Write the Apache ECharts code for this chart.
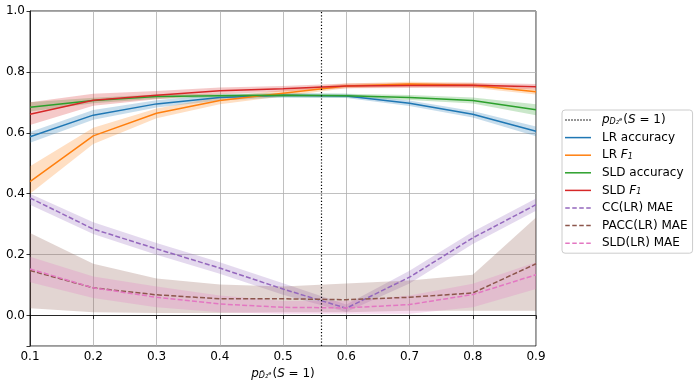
<!DOCTYPE html>
<html><head><meta charset="utf-8">
<script src="https://cdn.jsdelivr.net/npm/echarts@6/dist/echarts.min.js"></script>
<style>html,body{margin:0;padding:0;background:#fff}#c{width:697px;height:386px}</style>
</head><body><div id="c"></div>
<script>
const xs = [0.1, 0.2, 0.3, 0.4, 0.5, 0.6, 0.7, 0.8, 0.9];
const prior = 0.5635;
const yTicks = [0.0, 0.2, 0.4, 0.6, 0.8, 1.0];

const lrAccMean = [0.587, 0.658, 0.695, 0.716, 0.723, 0.721, 0.697, 0.661, 0.605];
const lrAccLo   = [0.567, 0.643, 0.683, 0.706, 0.716, 0.714, 0.688, 0.650, 0.589];
const lrAccHi   = [0.603, 0.675, 0.707, 0.726, 0.730, 0.728, 0.706, 0.672, 0.621];

const lrF1Mean = [0.440, 0.590, 0.664, 0.706, 0.730, 0.754, 0.760, 0.756, 0.735];
const lrF1Lo   = [0.400, 0.563, 0.648, 0.694, 0.720, 0.746, 0.752, 0.748, 0.726];
const lrF1Hi   = [0.490, 0.617, 0.680, 0.718, 0.740, 0.762, 0.768, 0.764, 0.744];

const sldAccMean = [0.684, 0.706, 0.719, 0.722, 0.723, 0.722, 0.716, 0.706, 0.676];
const sldAccLo   = [0.670, 0.697, 0.712, 0.716, 0.717, 0.716, 0.708, 0.696, 0.658];
const sldAccHi   = [0.700, 0.715, 0.726, 0.728, 0.729, 0.728, 0.724, 0.716, 0.694];

const sldF1Mean = [0.661, 0.707, 0.723, 0.738, 0.745, 0.754, 0.755, 0.756, 0.751];
const sldF1Lo   = [0.626, 0.689, 0.710, 0.727, 0.736, 0.746, 0.747, 0.748, 0.742];
const sldF1Hi   = [0.700, 0.728, 0.737, 0.749, 0.754, 0.762, 0.763, 0.764, 0.760];

const ccMaeMean = [0.386, 0.284, 0.219, 0.156, 0.087, 0.024, 0.126, 0.255, 0.364];
const ccMaeLo   = [0.364, 0.268, 0.200, 0.137, 0.068, 0.012, 0.105, 0.235, 0.344];
const ccMaeHi   = [0.400, 0.306, 0.238, 0.175, 0.106, 0.036, 0.147, 0.275, 0.384];

const paccMaeMean = [0.148, 0.091, 0.068, 0.055, 0.055, 0.052, 0.060, 0.074, 0.170];
const paccMaeLo   = [0.024, 0.011, 0.008, 0.008, 0.011, 0.011, 0.016, 0.016, 0.016];
const paccMaeHi   = [0.271, 0.170, 0.122, 0.102, 0.095, 0.105, 0.115, 0.134, 0.322];

const sldMaeMean = [0.153, 0.091, 0.060, 0.038, 0.027, 0.025, 0.036, 0.069, 0.134];
const sldMaeLo   = [0.109, 0.058, 0.027, 0.011, 0.006, 0.006, 0.006, 0.027, 0.087];
const sldMaeHi   = [0.193, 0.128, 0.095, 0.066, 0.048, 0.048, 0.066, 0.104, 0.175];

const names = ['LR accuracy', 'LR F1', 'SLD accuracy', 'SLD F1', 'CC(LR) MAE', 'PACC(LR) MAE', 'SLD(LR) MAE'];
const priorName = 'prior';

const defs = [
  {name: names[0], mean: lrAccMean, lo: lrAccLo, hi: lrAccHi, color: '#1f77b4', dash: false},
  {name: names[1], mean: lrF1Mean, lo: lrF1Lo, hi: lrF1Hi, color: '#ff7f0e', dash: false},
  {name: names[2], mean: sldAccMean, lo: sldAccLo, hi: sldAccHi, color: '#2ca02c', dash: false},
  {name: names[3], mean: sldF1Mean, lo: sldF1Lo, hi: sldF1Hi, color: '#d62728', dash: false},
  {name: names[4], mean: ccMaeMean, lo: ccMaeLo, hi: ccMaeHi, color: '#9467bd', dash: true},
  {name: names[5], mean: paccMaeMean, lo: paccMaeLo, hi: paccMaeHi, color: '#8c564b', dash: true},
  {name: names[6], mean: sldMaeMean, lo: sldMaeLo, hi: sldMaeHi, color: '#e377c2', dash: true}
];

function hexA(hex, a) {
  const r = parseInt(hex.slice(1,3),16), g = parseInt(hex.slice(3,5),16), b = parseInt(hex.slice(5,7),16);
  return 'rgba(' + r + ',' + g + ',' + b + ',' + a + ')';
}

const series = [];
series.push({
  name: priorName, type: 'line', data: [], symbol: 'none',
  lineStyle: {color: '#000', width: 1.2, type: [1.2, 2]},
  itemStyle: {color: '#000'},
  markLine: {silent: true, symbol: 'none', label: {show: false},
    lineStyle: {color: '#000', width: 1.2, type: [1.2, 2]},
    data: [{xAxis: prior}]},
  z: 5
});
defs.forEach((d) => {
  const fill = hexA(d.color, 0.25);
  series.push({
    name: d.name + '_band', type: 'custom', silent: true, z: 1,
    data: xs.map((x, i) => [x, d.lo[i], d.hi[i]]),
    encode: {x: 0, y: [1, 2]},
    renderItem: function (params, api) {
      if (params.dataIndex !== 0) return null;
      const pts = [];
      for (let i = 0; i < xs.length; i++) pts.push(api.coord([xs[i], d.hi[i]]));
      for (let i = xs.length - 1; i >= 0; i--) pts.push(api.coord([xs[i], d.lo[i]]));
      return {type: 'polygon', shape: {points: pts}, style: {fill: fill, stroke: null}};
    }
  });
  series.push({
    name: d.name, type: 'line', symbol: 'none',
    data: xs.map((x, i) => [x, d.mean[i]]),
    itemStyle: {color: d.color},
    lineStyle: {color: d.color, width: 1.5, type: d.dash ? [5, 2.2] : 'solid'},
    z: 3
  });
});

const solidIcon = 'path://M0,0h26v1.5h-26z';
const dashIcon = 'path://M0,0h4.5v1.5h-4.5zM7,0h4.5v1.5h-4.5zM14,0h4.5v1.5h-4.5zM21,0h4.5v1.5h-4.5z';
let dot = '';
for (let k = 0; k < 9; k++) dot += 'M' + (k * 3) + ',0h1.1v1.5h-1.1z';
const dotIcon = 'path://' + dot;

const FS = 12;
const rich = {
  i: {fontStyle: 'italic', fontSize: FS, fontFamily: 'DejaVu Sans', color: '#000'},
  s: {fontStyle: 'italic', fontSize: 8, fontFamily: 'DejaVu Sans', color: '#000', verticalAlign: 'bottom', padding: [0, 1, 0, 0]},
  t: {fontSize: FS, fontFamily: 'DejaVu Sans', color: '#000'}
};

const chart = echarts.init(document.getElementById('c'), null, {renderer: 'canvas'});
chart.setOption({
  animation: false,
  backgroundColor: '#fff',
  grid: {left: 30, right: 161, top: 11, bottom: 40, show: true, borderColor: '#000', borderWidth: 0.8},
  xAxis: {
    type: 'value', min: 0.1, max: 0.9, interval: 0.1,
    name: '{i|p}{s|D̃₂ᶿ}{t|(}{i|S}{t| = 1)}',
    nameLocation: 'middle', nameGap: 22,
    nameTextStyle: {rich: rich},
    axisLine: {show: true, lineStyle: {color: '#000', width: 0.8}},
    axisTick: {show: true, length: 3.5, lineStyle: {color: '#000', width: 0.8}},
    axisLabel: {color: '#000', fontSize: FS, fontFamily: 'DejaVu Sans', margin: 5,
      formatter: v => v.toFixed(1)},
    splitLine: {show: true, lineStyle: {color: '#b0b0b0', width: 0.8}}
  },
  yAxis: {
    type: 'value', min: -0.1, max: 1.0, splitNumber: 5,
    axisLine: {show: true, lineStyle: {color: '#000', width: 0.8}},
    axisTick: {show: true, length: 3.5, lineStyle: {color: '#000', width: 0.8}},
    axisLabel: {color: '#000', fontSize: FS, fontFamily: 'DejaVu Sans', margin: 5,
      formatter: v => (yTicks.some(t => Math.abs(t - v) < 1e-6) ? v.toFixed(1) : '')},
    splitLine: {show: true, lineStyle: {color: '#b0b0b0', width: 0.8}}
  },
  legend: {
    data: [{name: priorName, icon: dotIcon}].concat(defs.map(d => ({name: d.name, icon: d.dash ? dashIcon : solidIcon}))),
    orient: 'vertical', left: 562, top: 110,
    itemWidth: 26, itemHeight: 1.5, itemGap: 5.6,
    padding: [4, 5, 4, 3],
    borderColor: '#cccccc', borderWidth: 1, borderRadius: 3,
    backgroundColor: '#fff',
    textStyle: {fontSize: FS, fontFamily: 'DejaVu Sans', color: '#000', rich: rich, padding: [0, 0, 0, 6]},
    formatter: function (n) {
      if (n === priorName) return '{i|p}{s|D₂ᶿ}{t|(}{i|S}{t| = 1)}';
      if (n === 'LR F1') return '{t|LR }{i|F}{s|1}';
      if (n === 'SLD F1') return '{t|SLD }{i|F}{s|1}';
      return '{t|' + n + '}';
    }
  },
  series: series
});
</script></body></html>
